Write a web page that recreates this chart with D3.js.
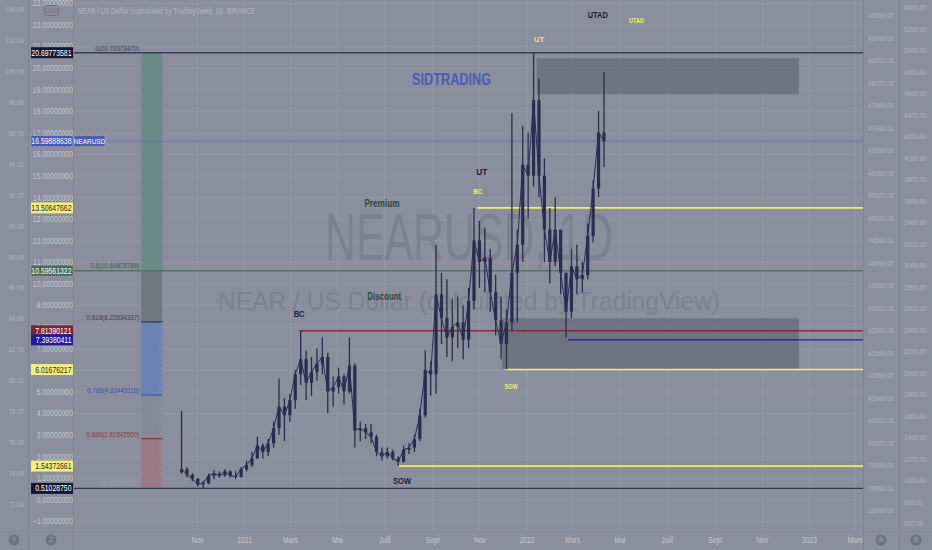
<!DOCTYPE html>
<html>
<head>
<meta charset="utf-8">
<script src="https://cdn.jsdelivr.net/npm/d3@7"></script>
<style>
html, body { margin: 0; padding: 0; background: #8b8e9c; overflow: hidden; }
svg { display: block; }
</style>
</head>
<body>
<div id="chart"></div>
<script>
////////////////////////////////////////////////////////////////////////
// data (NEAR / USD, weekly bars)

const firstWeek = "2020-10-12";
const firstOpen = 1.25;
const weekHigh = [4.1, 1.5, 1.2, 1.0, 0.85, 1.2, 1.35, 1.3, 1.4, 1.35,
  1.3, 1.5, 1.8, 2.2, 2.9, 2.6, 2.8, 3.6, 5.6, 4.7,
  4.9, 6.0, 7.8, 6.9, 6.6, 7.0, 7.5, 6.8, 5.7, 6.1,
  5.8, 7.5, 6.3, 3.6, 3.5, 3.5, 3.0, 2.4, 2.4, 2.3,
  2.0, 2.5, 2.6, 3.0, 4.2, 6.9, 6.4, 11.8, 10.5, 10.2,
  9.3, 9.4, 9.0, 9.8, 13.5, 12.9, 12.6, 11.6, 10.4, 9.4,
  8.8, 17.9, 12.5, 17.3, 17.0, 20.7, 19.5, 15.8, 13.5, 14.0,
  12.4, 10.5, 11.6, 11.8, 11.0, 12.8, 14.8, 18.0, 19.8];
const weekLow = [1.2, 1.0, 0.85, 0.6, 0.53, 0.7, 0.95, 1.0, 1.05, 1.0,
  0.95, 1.0, 1.3, 1.5, 1.9, 1.9, 2.0, 2.4, 3.0, 2.7,
  3.6, 4.2, 5.3, 4.6, 4.8, 5.5, 5.8, 4.0, 4.3, 4.9,
  4.4, 4.9, 2.4, 2.7, 2.8, 2.6, 2.0, 1.8, 1.9, 1.8,
  1.55, 1.7, 2.1, 2.2, 2.7, 3.8, 4.8, 4.9, 7.2, 6.6,
  6.4, 7.0, 6.5, 7.0, 8.8, 9.8, 9.6, 8.7, 7.6, 6.5,
  6.02, 7.8, 8.2, 11.0, 13.0, 14.5, 14.0, 11.0, 10.0, 10.8,
  9.5, 7.5, 8.4, 9.5, 9.6, 10.2, 11.9, 14.0, 15.4];
const weekClose = [1.4, 1.15, 0.95, 0.7, 0.75, 1.1, 1.2, 1.1, 1.3, 1.1,
  1.05, 1.4, 1.6, 1.9, 2.5, 2.2, 2.6, 3.3, 4.3, 3.9,
  4.6, 5.8, 6.5, 5.4, 5.9, 6.3, 6.6, 5.0, 5.2, 5.7,
  5.0, 6.2, 3.2, 3.3, 3.1, 2.9, 2.2, 2.0, 2.2, 1.9,
  1.75, 2.3, 2.4, 2.8, 3.9, 6.0, 5.8, 9.5, 8.4, 7.5,
  8.0, 8.2, 7.4, 9.2, 12.0, 11.0, 11.2, 9.6, 8.3, 7.2,
  8.2, 10.5, 11.8, 15.5, 15.0, 18.5, 15.0, 12.5, 11.0, 12.5,
  10.5, 8.7, 10.8, 10.2, 10.4, 12.2, 14.4, 17.0, 16.6];

// axis tick labels
const leftTicks = [-1, 0, 1, 2, 3, 4, 5, 6, 7, 8, 9, 10, 11, 12, 13, 14, 15, 16,
  17, 18, 19, 20, 21, 22, 23];
const farTicks = [72, 74, 76, 78, 80, 82, 84, 86, 88, 90, 92, 94, 96, 98, 100, 102, 104];
const rightTicksA = [38500, 39000, 39500, 40000, 40500, 41000, 41500, 42000, 42500,
  43000, 43500, 44000, 44500, 45000, 45500, 46000, 46500, 47000, 47500, 48000,
  48500, 49000, 49500];
const rightTicksB = [600, 800, 1000, 1200, 1400, 1600, 1800, 2000, 2200, 2400, 2600,
  2800, 3000, 3200, 3400, 3600, 3800, 4000, 4200, 4400, 4600, 4800, 5000, 5200, 5400];
const timeTicks = ["2020-11-01", "2021-01-01", "2021-03-01", "2021-05-01", "2021-07-01",
  "2021-09-01", "2021-11-01", "2022-01-01", "2022-03-01", "2022-05-01", "2022-07-01",
  "2022-09-01", "2022-11-01", "2023-01-01", "2023-03-01"];
const timeLabels = ["Nov", "2021", "Mars", "Mai", "Juill", "Sept", "Nov", "2022", "Mars",
  "Mai", "Juill", "Sept", "Nov", "2023", "Mars"];

// fibonacci retracement
const fibRatios = ["0", "0.5", "0.618", "0.786", "0.886", "1"];
const fibPrices = [20.70373470, 10.60875789, 8.22634337, 4.83443116, 2.81542560, 0.51378109];
const fibFrom = "2020-08-21";
const fibTo = "2020-09-17";

// horizontal levels: price, start date (null = whole width)
const levelPrices = [20.69773581, 16.59888638, 13.50647662, 10.59561322, 7.81390121,
  7.39380411, 6.01676217, 1.54372661, 0.51028750];
const levelStarts = [null, null, "2021-10-29", null, "2021-03-13", "2022-02-24",
  "2021-12-04", "2021-07-20", null];

// grey zones
const zoneFrom = ["2022-01-14", "2021-11-30"];
const zoneTo = ["2022-12-19", "2022-12-19"];
const zoneLow = [18.77, 6.05];
const zoneHigh = [20.44, 8.39];

// annotations: text, date, price
const noteTexts = ["SIDTRADING", "UTAD", "UTAD", "UT", "UT", "BC", "Premium", "Discount",
  "BC", "SOW", "SOW"];
const noteDates = ["2021-09-26", "2022-04-03", "2022-05-23", "2022-01-17", "2021-11-04",
  "2021-10-30", "2021-06-28", "2021-07-01", "2021-03-13", "2021-07-24", "2021-12-12"];
const notePrices = [19.48, 22.44, 22.21, 21.33, 15.17, 14.29, 13.69, 9.42, 8.59, 0.85, 5.25];

////////////////////////////////////////////////////////////////////////
// setup

const width = 932;
const height = 550;
const FONT = "'Liberation Sans', Arial, sans-serif";

const svg = d3.select("#chart").append("svg")
  .attr("width", width).attr("height", height);

svg.append("rect").attr("width", width).attr("height", height).attr("fill", "#8b8e9c");

const day = d => new Date(d + "T00:00:00Z");

// the screenshot is squeezed sideways, so texts are narrowed to match
function squeeze(sel, k) {
  sel.each(function() {
    let w = this.getComputedTextLength();
    d3.select(this).attr("textLength", w * k).attr("lengthAdjust", "spacingAndGlyphs");
  });
}

let xScale = d3.scaleUtc()
  .domain([day("2020-11-01"), day("2023-01-01")])
  .range([197, 809]);
let yScale = d3.scaleLinear().domain([-1, 23]).range([521, 3]);
let yFar = d3.scaleLinear().domain([72, 104]).range([504, 9]);
let yRightA = d3.scaleLinear().domain([38500, 49500]).range([510, 15]);
let yRightB = d3.scaleLinear().domain([600, 5400]).range([523, 7]);

const plotLeft = 74, plotRight = 863, plotBottom = 531;

// grid
let grid = svg.append("g").attr("stroke", "#ffffff").attr("stroke-opacity", 0.07);
grid.selectAll("line.h").data(leftTicks).enter().append("line")
  .attr("x1", plotLeft).attr("x2", plotRight)
  .attr("y1", d => yScale(d) + 0.5).attr("y2", d => yScale(d) + 0.5);
grid.selectAll("line.v").data(timeTicks).enter().append("line")
  .attr("x1", d => Math.round(xScale(day(d))) + 0.5)
  .attr("x2", d => Math.round(xScale(day(d))) + 0.5)
  .attr("y1", 0).attr("y2", plotBottom);

// watermark
svg.append("text").text("NEARUSD, 1D")
  .attr("x", 325).attr("y", 260)
  .attr("textLength", 288).attr("lengthAdjust", "spacingAndGlyphs")
  .style("font-family", FONT).style("font-size", "66px")
  .attr("fill", "#6c6f7e").attr("fill-opacity", 0.45);
svg.append("text").text("NEAR / US Dollar  (calculated by TradingView)")
  .attr("x", 218).attr("y", 310)
  .attr("textLength", 502).attr("lengthAdjust", "spacingAndGlyphs")
  .style("font-family", FONT).style("font-size", "26px")
  .attr("fill", "#6c6f7e").attr("fill-opacity", 0.45);

// grey zones
svg.append("g").selectAll("rect").data(zoneFrom).enter().append("rect")
  .attr("x", d => xScale(day(d)))
  .attr("width", (d, i) => xScale(day(zoneTo[i])) - xScale(day(d)))
  .attr("y", (d, i) => yScale(zoneHigh[i]))
  .attr("height", (d, i) => yScale(zoneLow[i]) - yScale(zoneHigh[i]))
  .attr("fill", "#5a5c6c").attr("fill-opacity", 0.55);

// fibonacci column
const fibFills = ["#6c8a85", "#72767f", "#6b83b4", "#858996", "#9b7b85"];
let fx0 = xScale(day(fibFrom)), fx1 = xScale(day(fibTo));
svg.append("g").selectAll("rect").data(fibFills).enter().append("rect")
  .attr("x", fx0).attr("width", fx1 - fx0)
  .attr("y", (d, i) => yScale(fibPrices[i]))
  .attr("height", (d, i) => yScale(fibPrices[i + 1]) - yScale(fibPrices[i]))
  .attr("fill", d => d);
svg.append("line")
  .attr("x1", fx1 - 2).attr("x2", fx1 - 2)
  .attr("y1", yScale(fibPrices[2])).attr("y2", yScale(fibPrices[5]))
  .attr("stroke", "#b5b8c8").attr("stroke-opacity", 0.5).attr("stroke-dasharray", "2,3");
const fibLineColors = [null, null, "#2c2f52", "#3d55b0", "#8a3040", null];
svg.append("g").selectAll("line").data(fibPrices).enter()
  .filter((d, i) => fibLineColors[i] !== null)
  .append("line")
  .attr("x1", fx0).attr("x2", fx1)
  .attr("y1", d => yScale(d)).attr("y2", d => yScale(d))
  .attr("stroke", (d, i) => fibLineColors[[2, 3, 4][i]]).attr("stroke-width", 1.2);
const fibTextColors = ["#3b3e58", "#3d5a4e", "#3b3e58", "#3450c0", "#8a3a48", "#9a9dab"];
svg.append("g").selectAll("text").data(fibPrices).enter().append("text")
  .text((d, i) => fibRatios[i] + "(" + d.toFixed(8) + ")")
  .attr("x", fx0 - 2).attr("y", d => yScale(d) - 2)
  .attr("text-anchor", "end")
  .style("font-family", FONT).style("font-size", "7.8px")
  .attr("fill", (d, i) => fibTextColors[i])
  .call(squeeze, 0.8);

// horizontal levels
const levelColors = ["#3a3d5c", "#6a72aa", "#f2ec6a", "#4d7660", "#8a2a3a", "#1c1ca8",
  "#f2ec6a", "#f2ec6a", "#343756"];
const levelWidths = [1.6, 1, 1.6, 1.3, 1.3, 1.3, 1.6, 1.6, 1.3];
svg.append("g").selectAll("line").data(levelPrices).enter().append("line")
  .attr("x1", (d, i) => levelStarts[i] ? xScale(day(levelStarts[i])) : plotLeft)
  .attr("x2", plotRight)
  .attr("y1", d => yScale(d)).attr("y2", d => yScale(d))
  .attr("stroke", (d, i) => levelColors[i])
  .attr("stroke-width", (d, i) => levelWidths[i]);

// candles
const weekDate = i => d3.utcDay.offset(day(firstWeek), 7 * i);
const openOf = i => i ? weekClose[i - 1] : firstOpen;
const candleColor = "#2b2c4f";
let candles = svg.append("g");
candles.append("path")
  .datum(weekClose)
  .attr("d", d3.line().x((d, i) => xScale(weekDate(i))).y(d => yScale(d)))
  .attr("fill", "none").attr("stroke", candleColor).attr("stroke-width", 1);
candles.selectAll("line").data(weekHigh).enter().append("line")
  .attr("x1", (d, i) => xScale(weekDate(i))).attr("x2", (d, i) => xScale(weekDate(i)))
  .attr("y1", d => yScale(d)).attr("y2", (d, i) => yScale(weekLow[i]))
  .attr("stroke", candleColor).attr("stroke-width", 1.3);
candles.selectAll("rect").data(weekClose).enter().append("rect")
  .attr("x", (d, i) => xScale(weekDate(i)) - 1.6)
  .attr("width", 3.2)
  .attr("y", (d, i) => yScale(Math.max(d, openOf(i))))
  .attr("height", (d, i) => Math.max(1, Math.abs(yScale(d) - yScale(openOf(i)))))
  .attr("fill", candleColor);

// annotations (colour, font size, drawn width)
const noteStyles = [
  {c: "#4a5cb8", s: 17, w: 79}, {c: "#1c1d33", s: 9.5, w: 20},
  {c: "#f2ec6a", s: 7.5, w: 15}, {c: "#f2ec6a", s: 7.5, w: 10},
  {c: "#1c1d33", s: 9.5, w: 11}, {c: "#f2ec6a", s: 7.5, w: 9},
  {c: "#2f4a3c", s: 10, w: 35}, {c: "#2f4a3c", s: 10, w: 34},
  {c: "#1c1d33", s: 9.5, w: 11}, {c: "#1c1d33", s: 9.5, w: 18},
  {c: "#f2ec6a", s: 7.5, w: 13}];
svg.append("g").selectAll("text").data(noteTexts).enter().append("text")
  .text(d => d)
  .attr("x", (d, i) => xScale(day(noteDates[i])))
  .attr("y", (d, i) => yScale(notePrices[i]))
  .attr("dy", "0.35em")
  .attr("text-anchor", "middle")
  .attr("textLength", (d, i) => noteStyles[i].w)
  .attr("lengthAdjust", "spacingAndGlyphs")
  .style("font-family", FONT)
  .style("font-size", (d, i) => noteStyles[i].s + "px")
  .style("font-weight", "bold")
  .attr("fill", (d, i) => noteStyles[i].c);

// axis panels and separators
let seps = svg.append("g").attr("stroke", "#7f8290");
[28.5, 73.5, 863.5, 899.5].forEach(x => {
  seps.append("line").attr("x1", x).attr("x2", x).attr("y1", 0).attr("y2", height);
});
seps.append("line").attr("x1", 0).attr("x2", width)
  .attr("y1", plotBottom + 0.5).attr("y2", plotBottom + 0.5).attr("stroke-opacity", 0.5);

function styleAxis(g, color, size) {
  g.select(".domain").remove();
  g.selectAll(".tick line").remove();
  g.attr("font-family", null).attr("font-size", null);
  g.selectAll("text").style("font-family", FONT).style("font-size", size + "px")
    .attr("fill", color)
    .call(squeeze, 0.8);
}

svg.append("g").attr("transform", "translate(" + plotLeft + ",0)")
  .call(d3.axisLeft(yScale).tickValues(leftTicks).tickSize(0).tickPadding(1)
    .tickFormat(d3.format(".8f")))
  .call(g => styleAxis(g, "#c3c6cf", 8.6));
svg.append("g").attr("transform", "translate(24,0)")
  .call(d3.axisLeft(yFar).tickValues(farTicks).tickSize(0).tickPadding(0)
    .tickFormat(d3.format(".2f")))
  .call(g => styleAxis(g, "#b0b3be", 7.8));
svg.append("g").attr("transform", "translate(864,0)")
  .call(d3.axisRight(yRightA).tickValues(rightTicksA).tickSize(0).tickPadding(4)
    .tickFormat(d3.format(".2f")))
  .call(g => styleAxis(g, "#b2b5c0", 7.8));
svg.append("g").attr("transform", "translate(900,0)")
  .call(d3.axisRight(yRightB).tickValues(rightTicksB).tickSize(0).tickPadding(4)
    .tickFormat(d3.format(".2f")))
  .call(g => styleAxis(g, "#b2b5c0", 7.8));
svg.append("g").attr("transform", "translate(0," + plotBottom + ")")
  .call(d3.axisBottom(xScale).tickValues(timeTicks.map(day)).tickSize(0).tickPadding(6)
    .tickFormat((d, i) => timeLabels[i]))
  .call(g => styleAxis(g, "#c6c9d1", 8.4));

// price labels on the left scale
const labelFills = ["#141833", "#4a5bb5", "#f4ee80", "#4c695c", "#7a2535", "#1d1d9e",
  "#f4ee80", "#f4ee80", "#141833"];
const labelInk = ["#ffffff", "#ffffff", "#2a2a2a", "#ffffff", "#ffffff", "#ffffff",
  "#2a2a2a", "#2a2a2a", "#ffffff"];
let tags = svg.append("g");
tags.selectAll("rect").data(levelPrices).enter().append("rect")
  .attr("x", 31).attr("width", 42)
  .attr("y", d => yScale(d) - 5.5).attr("height", 11)
  .attr("fill", (d, i) => labelFills[i])
  .attr("stroke", (d, i) => (i === 1 || i === 3) ? "#d6d88a" : "none")
  .attr("stroke-dasharray", "1,1").attr("stroke-width", 0.6);
tags.selectAll("text").data(levelPrices).enter().append("text")
  .text(d => d.toFixed(8))
  .attr("x", 71.5).attr("y", d => yScale(d)).attr("dy", "0.35em")
  .attr("text-anchor", "end")
  .style("font-family", FONT).style("font-size", "8.6px")
  .attr("fill", (d, i) => labelInk[i])
  .call(squeeze, 0.8);
tags.append("rect")
  .attr("x", 74).attr("width", 31)
  .attr("y", yScale(levelPrices[1]) - 5.5).attr("height", 11)
  .attr("fill", labelFills[1]).attr("stroke", "#d6d88a")
  .attr("stroke-dasharray", "1,1").attr("stroke-width", 0.6);
tags.append("text").text("NEARUSD")
  .attr("x", 89.5).attr("y", yScale(levelPrices[1])).attr("dy", "0.35em")
  .attr("text-anchor", "middle")
  .style("font-family", FONT).style("font-size", "8px").attr("fill", "#ffffff")
  .call(squeeze, 0.8);

// header legend
svg.append("rect").attr("x", 44.5).attr("y", 5.5).attr("width", 14).attr("height", 10)
  .attr("rx", 2).attr("fill", "none").attr("stroke", "#6d7080");
svg.append("text").text("USD").attr("x", 51.5).attr("y", 10.5).attr("dy", "0.35em")
  .attr("text-anchor", "middle")
  .style("font-family", FONT).style("font-size", "6.5px").attr("fill", "#6d7080")
  .call(squeeze, 0.86);
svg.append("text").text("NEAR / US Dollar (calculated by TradingView), 1D, BINANCE")
  .attr("x", 78).attr("y", 11).attr("dy", "0.35em")
  .attr("textLength", 177).attr("lengthAdjust", "spacingAndGlyphs")
  .style("font-family", FONT).style("font-size", "8.5px").style("font-weight", "bold")
  .attr("fill", "#a9acb9");

// corner buttons
const buttons = [["Y", 14], ["Z", 51], ["A", 881], ["B", 916]];
let btn = svg.append("g").selectAll("g").data(buttons).enter().append("g")
  .attr("transform", d => "translate(" + d[1] + ",540)");
btn.append("circle").attr("r", 5.5).attr("fill", "#6f7282");
btn.append("text").text(d => d[0]).attr("text-anchor", "middle").attr("dy", "0.35em")
  .style("font-family", FONT).style("font-size", "7px").attr("fill", "#9c9fad");
</script>
</body>
</html>
